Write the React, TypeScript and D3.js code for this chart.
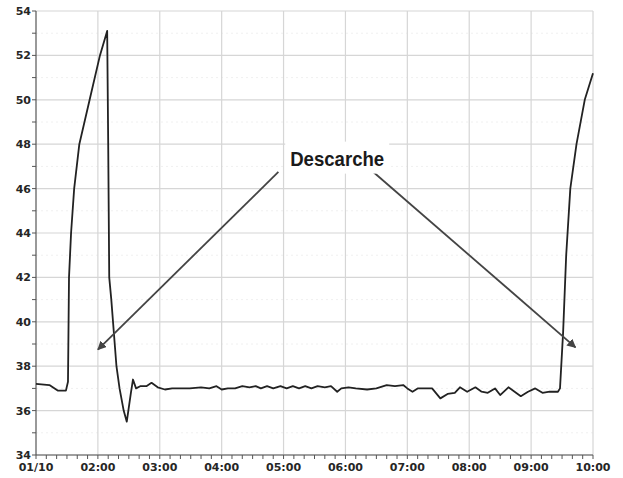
import React from 'react';
import * as d3 from 'd3';

const times = [
  '01:00', '01:13', '01:21', '01:29', '01:31', '01:32', '01:34', '01:37', '01:42', '01:52',
  '02:02', '02:09', '02:10', '02:11', '02:13', '02:18', '02:21', '02:25', '02:28', '02:32',
  '02:34', '02:37', '02:41', '02:47', '02:52', '02:58', '03:05', '03:12', '03:20', '03:29',
  '03:40', '03:48', '03:55', '04:00', '04:06', '04:13', '04:20', '04:27', '04:33', '04:38',
  '04:44', '04:50', '04:57', '05:03', '05:09', '05:15', '05:21', '05:27', '05:33', '05:40',
  '05:46', '05:52', '05:56', '06:03', '06:10', '06:21', '06:30', '06:40', '06:48', '06:56',
  '07:00', '07:05', '07:10', '07:15', '07:24', '07:32', '07:39', '07:46', '07:51', '07:58',
  '08:06', '08:12', '08:18', '08:25', '08:30', '08:38', '08:44', '08:50', '08:57', '09:04',
  '09:11', '09:18', '09:26', '09:28', '09:31', '09:34', '09:38', '09:44', '09:52', '10:00',
];

const temps = [
  37.2, 37.15, 36.9, 36.9, 37.3, 42.0, 44.0, 46.0, 48.0, 50.0,
  52.0, 53.1, 48.0, 42.0, 41.0, 38.0, 37.0, 36.0, 35.5, 36.8,
  37.4, 37.0, 37.1, 37.1, 37.25, 37.05, 36.95, 37.0, 37.0, 37.0,
  37.05, 37.0, 37.1, 36.95, 37.0, 37.0, 37.1, 37.05, 37.1, 37.0,
  37.1, 37.0, 37.1, 37.0, 37.1, 37.0, 37.1, 37.0, 37.1, 37.05,
  37.1, 36.85, 37.0, 37.05, 37.0, 36.95, 37.0, 37.15, 37.1, 37.15,
  37.0, 36.85, 37.0, 37.0, 37.0, 36.55, 36.75, 36.8, 37.05, 36.85,
  37.05, 36.85, 36.8, 37.0, 36.7, 37.05, 36.85, 36.65, 36.85, 37.0,
  36.8, 36.85, 36.85, 37.0, 39.5, 43.0, 46.0, 48.0, 50.0, 51.2,
];

const yTicks = [34, 36, 38, 40, 42, 44, 46, 48, 50, 52, 54];
const xTickLabels = ['01/10', '02:00', '03:00', '04:00', '05:00', '06:00', '07:00', '08:00', '09:00', '10:00'];
const xTickTimes = ['01:00', '02:00', '03:00', '04:00', '05:00', '06:00', '07:00', '08:00', '09:00', '10:00'];

const noteText = 'Descarche';
const notePos = { time: '05:52', value: 47.35 };
const arrows = [
  { from: { time: '04:55', value: 46.75 }, to: { time: '02:00', value: 38.75 } },
  { from: { time: '06:27', value: 46.75 }, to: { time: '09:43', value: 38.85 } },
];

const parse = d3.timeParse('%H:%M');
const W = 623;
const H = 478;
const left = 36;
const right = 593;
const top = 11;
const bottom = 455;

export default function App() {
  const x = d3.scaleTime()
    .domain([parse('01:00')!, parse('10:00')!])
    .range([left, right]);
  const y = d3.scaleLinear().domain([34, 54]).range([bottom, top]);

  const data = times.map((t, i) => ({ t: parse(t)!, v: temps[i] }));
  const line = d3.line<{ t: Date; v: number }>()
    .x(d => x(d.t))
    .y(d => y(d.v));

  const minorX = x.ticks(d3.timeMinute.every(10)!);
  const minorY = d3.range(34, 55, 1);
  const labelFont = "'DejaVu Sans', sans-serif";

  const nx = x(parse(notePos.time)!);
  const ny = y(notePos.value);

  return (
    <svg width={W} height={H} style={{ position: 'absolute', left: 0, top: 0, background: '#fff' }}>
      <defs>
        <marker id="arr" viewBox="0 0 10 10" refX="9" refY="5" markerWidth="9" markerHeight="9"
          orient="auto-start-reverse" markerUnits="userSpaceOnUse">
          <path d="M0,0 L10,5 L0,10 z" fill="#444" />
        </marker>
      </defs>
      {/* faint minor grid */}
      {minorY.filter(v => v % 2 === 1).map(v => (
        <line key={'my' + v} x1={left} x2={right} y1={y(v)} y2={y(v)} stroke="#f0f0f0" strokeDasharray="2,3" />
      ))}
      {/* major grid */}
      {yTicks.map(v => (
        <line key={'gy' + v} x1={left} x2={right} y1={y(v)} y2={y(v)} stroke="#d6d6d6" strokeWidth={1.2} />
      ))}
      {xTickTimes.slice(1).map(t => (
        <line key={'gx' + t} x1={x(parse(t)!)} x2={x(parse(t)!)} y1={top} y2={bottom} stroke="#d6d6d6" strokeWidth={1.2} />
      ))}
      {/* axes */}
      <line x1={left} x2={left} y1={top} y2={bottom} stroke="#555" strokeWidth={1.2} />
      <line x1={left} x2={right} y1={bottom} y2={bottom} stroke="#555" strokeWidth={1.2} />
      {minorX.map((d, i) => (
        <line key={'tx' + i} x1={x(d)} x2={x(d)} y1={bottom} y2={bottom + 4} stroke="#555" />
      ))}
      {minorY.map(v => (
        <line key={'ty' + v} x1={left - 4} x2={left} y1={y(v)} y2={y(v)} stroke="#555" />
      ))}
      {yTicks.map(v => (
        <text key={'ly' + v} x={left - 5} y={y(v)} dy="0.36em" textAnchor="end"
          fontFamily={labelFont} fontWeight="bold" fontSize={11} fill="#262626">{v}</text>
      ))}
      {xTickTimes.map((t, i) => (
        <text key={'lx' + t} x={x(parse(t)!)} y={bottom + 16} textAnchor="middle"
          fontFamily={labelFont} fontWeight="bold" fontSize={11} fill="#262626">{xTickLabels[i]}</text>
      ))}
      {/* series */}
      <path d={line(data) ?? ''} fill="none" stroke="#222" strokeWidth={1.8} strokeLinejoin="round" />
      {/* annotation */}
      {arrows.map((a, i) => (
        <line key={'ar' + i}
          x1={x(parse(a.from.time)!)} y1={y(a.from.value)}
          x2={x(parse(a.to.time)!)} y2={y(a.to.value)}
          stroke="#444" strokeWidth={1.8} markerEnd="url(#arr)" />
      ))}
      <rect x={nx - 52} y={ny - 17} width={104} height={32} fill="#fff" />
      <text x={nx} y={ny} dy="0.35em" textAnchor="middle"
        fontFamily="'Liberation Sans', Arial, sans-serif" fontWeight="bold"
        fontSize={21} textLength={94} lengthAdjust="spacingAndGlyphs"
        fill="#1a1a1a">{noteText}</text>
    </svg>
  );
}
